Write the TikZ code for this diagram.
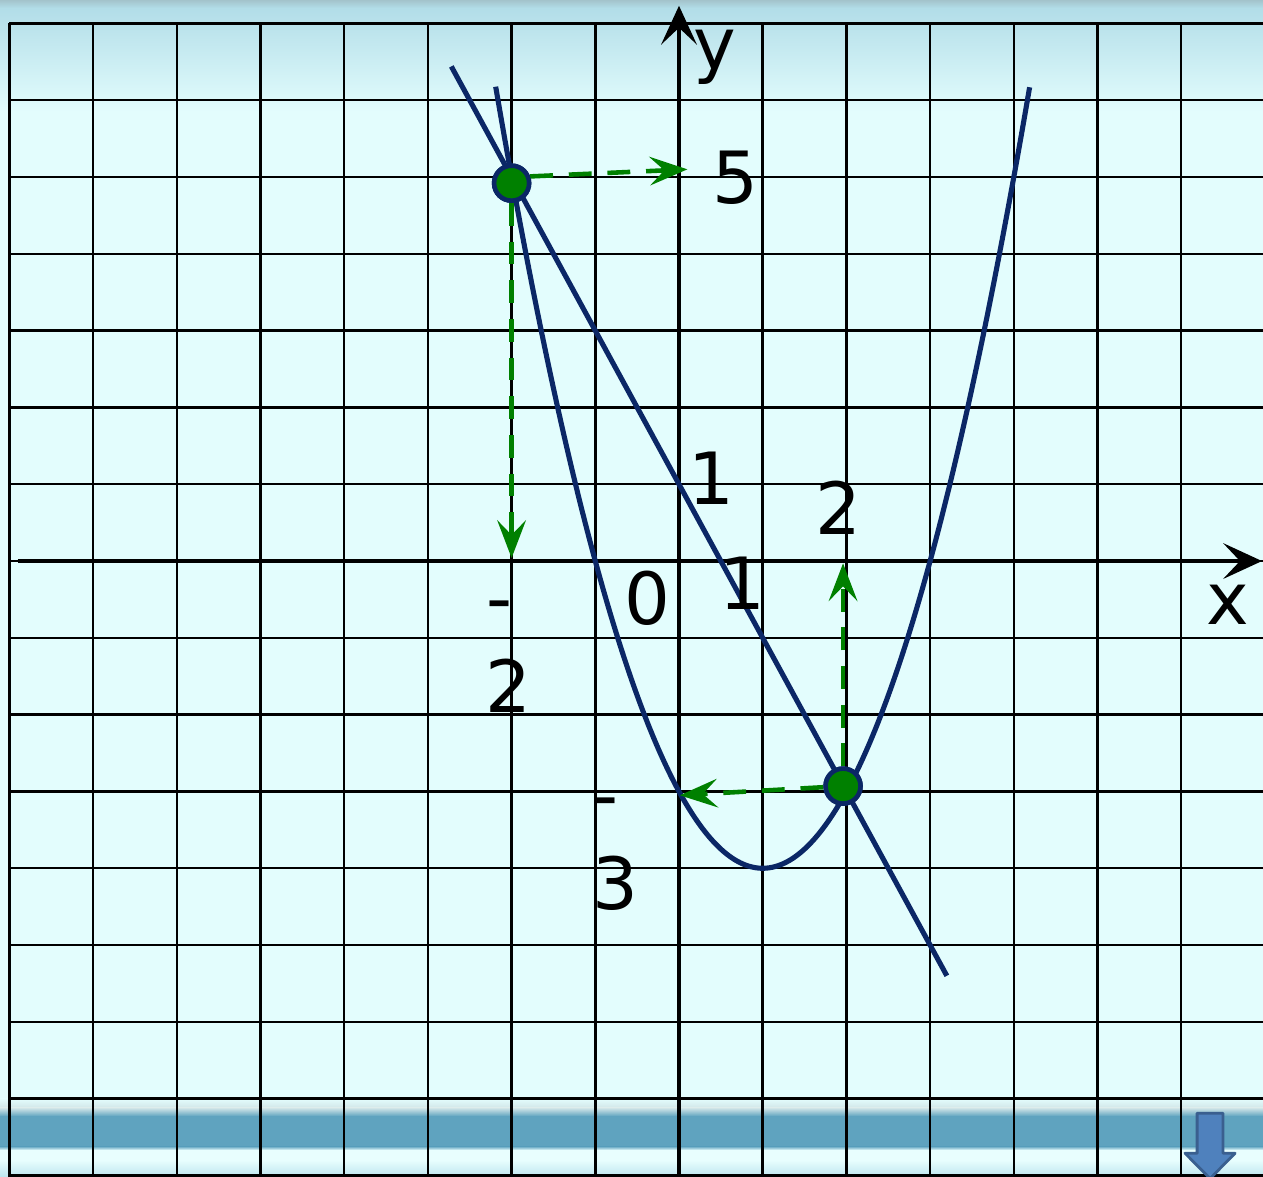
\documentclass[tikz,border=0pt]{standalone}
\usepackage{fontspec}
\setmainfont{DejaVu Sans}
\usetikzlibrary{arrows.meta}
\definecolor{bgcyan}{HTML}{E3FDFD}
\definecolor{topband}{HTML}{B2DDE8}
\definecolor{topgray}{HTML}{A3C3CB}
\definecolor{barlight}{HTML}{D2E6E8}
\definecolor{bardark}{HTML}{5FA3BF}
\definecolor{barpale}{HTML}{E8FEFE}
\definecolor{barblue}{HTML}{BFE6EF}
\definecolor{curveblue}{HTML}{0B2766}
\definecolor{ptgreen}{HTML}{008000}
\definecolor{iconfill}{HTML}{4F81BD}
\definecolor{iconedge}{HTML}{3A5F8F}

\begin{document}
\begin{tikzpicture}[x=1.674cm, y=1.536cm,
  curve/.style={curveblue, line width=2.9pt},
  pt/.style={circle, fill=ptgreen, draw=curveblue, line width=2.6pt, minimum size=0.7cm, inner sep=0},
  lbl/.style={inner sep=0, font=\fontsize{41}{41}\selectfont},
  garrow/.style={ptgreen, line width=2.6pt, dash pattern=on 13pt off 9pt,
    -{Stealth[length=0.76cm, width=0.58cm, inset=0.3cm, line width=0pt]}},
  axarrow/.style={line width=2.7pt,
    -{Stealth[length=0.78cm, width=0.72cm, inset=0.34cm, line width=0pt]}}]
  \useasboundingbox (-8.112,-8.008) rectangle (6.977,7.305);
  \clip (-8.112,-8.008) rectangle (6.977,7.305);

  % Background
  \fill[bgcyan] (-8.112,-8.008) rectangle (6.977,7.305);
  \shade[top color=topband, bottom color=bgcyan] (-8.112,5.85) rectangle (6.977,7.2);
  \shade[top color=topgray, bottom color=topband] (-8.112,7.2) rectangle (6.977,7.305);
  \shade[top color=bgcyan, bottom color=barlight] (-8.112,-7.0) rectangle (6.977,-7.12);
  \shade[top color=barlight, bottom color=bardark] (-8.112,-7.12) rectangle (6.977,-7.23);
  \fill[bardark] (-8.112,-7.23) rectangle (6.977,-7.62);
  \shade[top color=bardark, bottom color=barpale] (-8.112,-7.62) rectangle (6.977,-7.67);
  \fill[barpale] (-8.112,-7.67) rectangle (6.977,-7.80);
  \shade[top color=barpale, bottom color=barblue] (-8.112,-7.80) rectangle (6.977,-8.008);

  % Grid
  \foreach \i in {-8,...,7} {
    \draw[line width=1.4pt] (\i,-8.1) -- (\i,7);
    \draw[line width=1.4pt] (-8,\i) -- (7.1,\i);
  }

  % Axes
  \draw[axarrow] (-7.9,0) -- (6.965,0);
  \draw[axarrow] (0,-8.1) -- (0,7.23);

  % Parabola and line
  \draw[curve, domain=-2.19:4.19, samples=120, smooth] plot (\x, {\x*\x-2*\x-3});
  \draw[curve] (-2.72,6.44) -- (3.2,-5.4);

  % Points
  \node[pt] (A) at (-2,4.92) {};
  \node[pt] (B) at (1.96,-2.93) {};
  \coordinate (a5) at (0.1,5.1);
  \coordinate (a0) at (-2,0.04);
  \coordinate (b0) at (1.96,-0.03);
  \coordinate (b3) at (0.01,-3.05);

  % Projections
  \draw[garrow] (A.20) -- (a5);
  \draw[garrow] (A) -- (a0);
  \draw[garrow] (B) -- (b0);
  \draw[garrow] (B) -- (b3);
  \node[pt] at (A) {};
  \node[pt] at (B) {};

  % Labels
  \node[lbl] (ylab) at (0.43,6.56) {y};
  \node[lbl] (xlab) at (6.56,-0.57) {x};
  \node[lbl] (five) at (0.68,4.99) {5};
  \node[lbl] (oneY) at (0.39,1.08) {1};
  \node[lbl] (twoX) at (1.90,0.69) {2};
  \node[lbl] (oneX) at (0.76,-0.29) {1};
  \node[lbl] (zero) at (-0.38,-0.48) {0};
  \node[lbl] (minusA) at (-2.14,-0.67) {-};
  \node[lbl] (twoA) at (-2.04,-1.63) {2};
  \node[lbl] (minusB) at (-0.88,-3.23) {-};
  \node[lbl] (threeB) at (-0.76,-4.19) {3};

  % Scroll icon
  \draw[fill=iconfill, draw=iconedge, line width=1.6pt, line join=round]
    (6.19,-7.19) -- (6.50,-7.19) -- (6.50,-7.71) -- (6.643,-7.71)
    -- (6.345,-8.04) -- (6.045,-7.71) -- (6.19,-7.71) -- cycle;
\end{tikzpicture}
\end{document}
